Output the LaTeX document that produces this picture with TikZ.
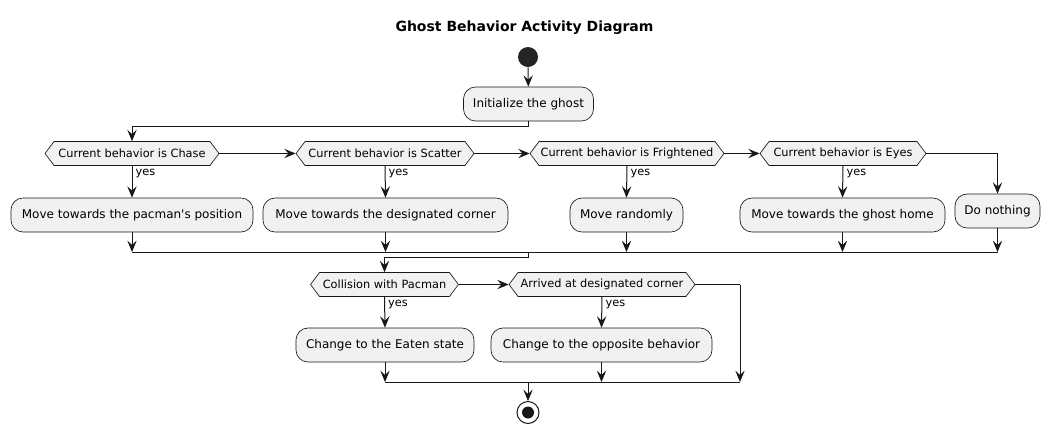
\documentclass[tikz,border=0pt]{standalone}
\usepackage{fontspec}
\setmainfont{DejaVu Sans}
\usetikzlibrary{shapes.symbols,arrows.meta}
\definecolor{boxfill}{HTML}{F1F1F1}
\definecolor{ink}{HTML}{181818}
\tikzset{
  act/.style={draw=ink, line width=0.5pt, fill=boxfill, rounded corners=9pt,
    minimum width=#1*0.75pt, minimum height=25.5pt, inner sep=0pt,
    font=\fontsize{9}{11}\selectfont},
  cond/.style={signal, signal to=west and east, signal pointer angle=106,
    draw=ink, line width=0.5pt, fill=boxfill,
    minimum width=#1*0.75pt, minimum height=18pt, inner sep=0pt,
    font=\fontsize{8.5}{10}\selectfont},
  yeslbl/.style={anchor=north west, inner sep=0pt, xshift=2.5pt, yshift=-2pt,
    font=\fontsize{8.5}{10}\selectfont},
  arr/.style={draw=ink, line width=0.75pt,
    -{Stealth[length=8.5pt,width=7pt,inset=3.2pt]}},
  ln/.style={draw=ink, line width=0.75pt},
}
\begin{document}
\begin{tikzpicture}[x=0.75pt,y=-0.75pt]
\useasboundingbox (0,0) rectangle (1050,433);
\node[font=\fontsize{10.5}{12}\selectfont\bfseries] (title) at (524.5,28) {Ghost Behavior Activity Diagram};
\node[circle, fill=ink!95!white, draw=none, minimum size=15pt, inner sep=0pt] (start) at (528,57) {};
\node[act=130] (init) at (528.5,104) {Initialize the ghost};
% conditions
\node[cond=174] (c1) at (132,153.5) {Current behavior is Chase};
\node[cond=178] (c2) at (385,153.5) {Current behavior is Scatter};
\node[cond=194] (c3) at (627,153.5) {Current behavior is Frightened};
\node[cond=166] (c4) at (843,153.5) {Current behavior is Eyes};
% actions
\node[act=242] (b1) at (132,215) {Move towards the pacman\textquotesingle s position};
\node[act=245] (b2) at (385.5,215) {Move towards the designated corner};
\node[act=113] (b3) at (626.5,215) {Move randomly};
\node[act=85] (b5) at (997.5,211) {Do nothing};
\node[act=205] (b4) at (842.5,215) {Move towards the ghost home};
\coordinate (m1) at (528,252);
% second stage
\node[cond=148] (d1) at (384.5,284.5) {Collision with Pacman};
\node[cond=186] (d2) at (602,284.5) {Arrived at designated corner};
\node[act=178] (e1) at (385,345) {Change to the Eaten state};
\node[act=221] (e2) at (601.5,345) {Change to the opposite behavior};
\coordinate (r2) at (740,284.5);
\coordinate (m2) at (528,382);
\node[circle, draw=ink, line width=0.75pt, fill=white, minimum size=16.5pt, inner sep=0pt] (end) at (528,412.5) {};
\node[circle, fill=ink, minimum size=9pt, inner sep=0pt] at (end) {};
% connectors
\draw[arr] (start) -- (init);
\draw[arr] (init.south) -- ++(0,5) -| (c1.north);
\draw[arr] (c1.east) -- (c2.west);
\draw[arr] (c2.east) -- (c3.west);
\draw[arr] (c3.east) -- (c4.west);
\draw[arr] (c4.east) -| (b5.north);
\draw[arr] (c1.south) -- (b1.north);
\draw[arr] (c2.south) -- (b2.north);
\draw[arr] (c3.south) -- (b3.north);
\draw[arr] (c4.south) -- (b4.north);
\node[yeslbl] at (c1.south) {yes};
\node[yeslbl] at (c2.south) {yes};
\node[yeslbl] at (c3.south) {yes};
\node[yeslbl] at (c4.south) {yes};
\draw[arr] (b1.south) -- (b1.south |- m1);
\draw[arr] (b2.south) -- (b2.south |- m1);
\draw[arr] (b3.south) -- (b3.south |- m1);
\draw[arr] (b4.south) -- (b4.south |- m1);
\draw[arr] (b5.south) -- (b5.south |- m1);
\draw[ln] (b1.south |- m1) -- (b5.south |- m1);
\draw[arr] (m1) -- ++(0,5) -| (d1.north);
\draw[arr] (d1.east) -- (d2.west);
\draw[arr] (d1.south) -- (e1.north);
\draw[arr] (d2.south) -- (e2.north);
\node[yeslbl] at (d1.south) {yes};
\node[yeslbl] at (d2.south) {yes};
\draw[ln] (d2.east) -- (r2);
\draw[arr] (r2) -- (r2 |- m2);
\draw[arr] (e1.south) -- (e1.south |- m2);
\draw[arr] (e2.south) -- (e2.south |- m2);
\draw[ln] (e1.south |- m2) -- (r2 |- m2);
\draw[arr] (m2) -- (end.north);
\end{tikzpicture}
\end{document}
